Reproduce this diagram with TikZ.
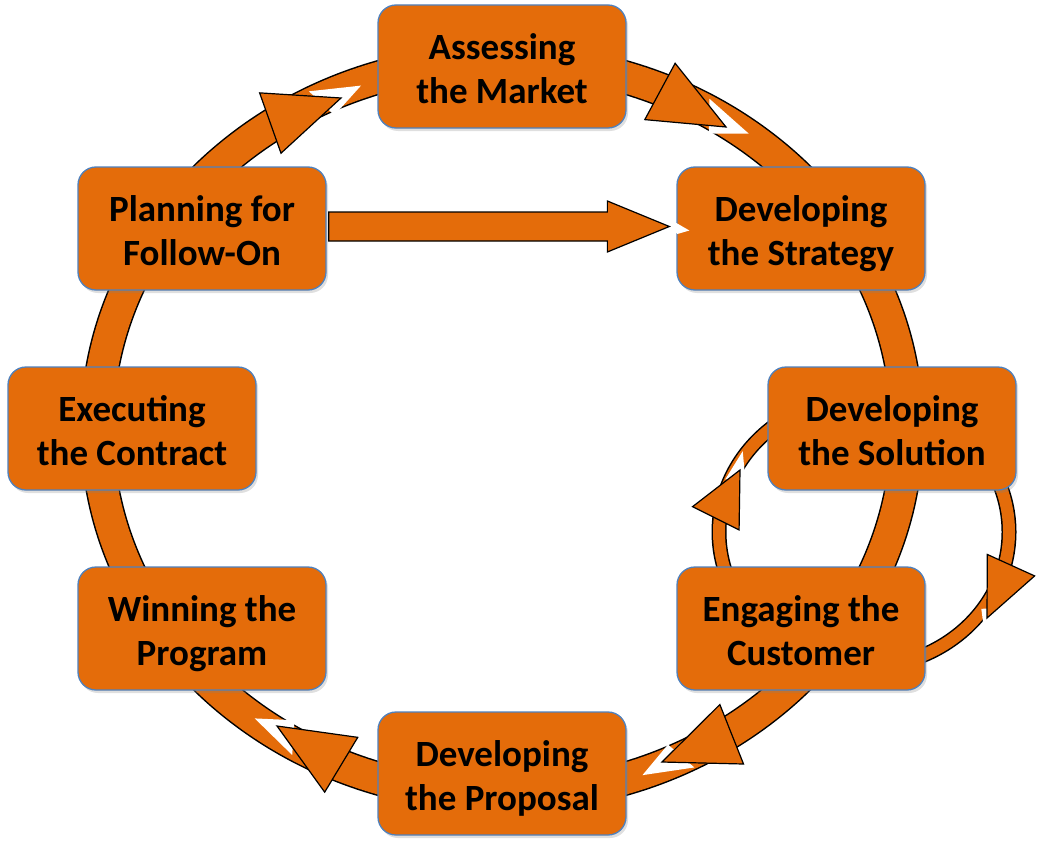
\documentclass[tikz,border=0pt]{standalone}
\usepackage{fontspec}
\setmainfont{Carlito}
\usetikzlibrary{calc,shadows}
\definecolor{org}{RGB}{228,108,10}
\definecolor{bord}{RGB}{79,129,189}
\newcommand\twoline[2]{\raisebox{-6pt}[\height][\depth]{\begin{tabular}{@{}c@{}}#1\\#2\end{tabular}}}
\begin{document}
\begin{tikzpicture}[x=1pt,y=-1pt,
  box/.style={draw=bord, line width=1.3pt, fill=org, rounded corners=18pt,
    minimum width=248pt, minimum height=123pt, inner sep=0pt,
    font=\bfseries\fontsize{37}{44}\selectfont,
    drop shadow={opacity=0.25, shadow xshift=2pt, shadow yshift=-3pt}},
  head/.style={fill=org, draw=black, line width=1.2pt, line join=miter},
  notch/.style={fill=white}]
\useasboundingbox (0,0) rectangle (1043,848);
\fill[white] (0,0) rectangle (1043,848);
% main ring
\draw[line width=34pt, black] (502,428) ellipse [x radius=405pt, y radius=368pt];
\draw[line width=31pt, org] (502,428) ellipse [x radius=405pt, y radius=368pt];
% small loop
\draw[line width=15pt, black] (864,532) ellipse [x radius=145pt, y radius=135pt];
\draw[line width=12pt, org] (864,532) ellipse [x radius=145pt, y radius=135pt];
% boxes
\node[box] (mkt)   at (502,66.5)  {\twoline{Assessing}{the Market}};
\node[box] (strat) at (801,228.5) {\twoline{Developing}{the Strategy}};
\node[box] (sol)   at (892,428.5) {\twoline{Developing}{the Solution}};
\node[box] (cust)  at (801,628.5) {\twoline{Engaging the}{Customer}};
\node[box] (prop)  at (502,773.5) {\twoline{Developing}{the Proposal}};
\node[box] (win)   at (202,628.5) {\twoline{Winning the}{Program}};
\node[box] (exec)  at (132,428.5) {\twoline{Executing}{the Contract}};
\node[box] (plan)  at (202,228.5) {\twoline{Planning for}{Follow-On}};
% arrowheads on the main ring
\begin{scope}[shift={(341,98)}, rotate=19.5]
  \fill[notch] (-28,-17) -- (23,-5) -- (-12,14) -- cycle;
  \draw[head] (0,0) -- (-75,32) -- (-75,-32) -- cycle;
\end{scope}
\begin{scope}[shift={(726,127)}, rotate=-28.3]
  \fill[notch] (-28,-17) -- (23,-5) -- (-12,14) -- cycle;
  \draw[head] (0,0) -- (-75,32) -- (-75,-32) -- cycle;
\end{scope}
\begin{scope}[shift={(662,762)}, rotate=-158.3]
  \fill[notch] (-28,-17) -- (23,-5) -- (-12,14) -- cycle;
  \draw[head] (0,0) -- (-75,32) -- (-75,-32) -- cycle;
\end{scope}
\begin{scope}[shift={(277,726)}, rotate=148.9]
  \fill[notch] (-28,-17) -- (23,-5) -- (-12,14) -- cycle;
  \draw[head] (0,0) -- (-75,32) -- (-75,-32) -- cycle;
\end{scope}
% arrowheads on the small loop
\begin{scope}[shift={(740,470)}, rotate=63.4]
  \fill[notch] (-15,-9) -- (18,-6) -- (-6,9) -- cycle;
  \draw[head] (0,0) -- (-54,26) -- (-54,-26) -- cycle;
\end{scope}
\begin{scope}[shift={(987,618)}, rotate=-114.4]
  \fill[notch] (-15,-9) -- (18,-6) -- (-6,9) -- cycle;
  \draw[head] (0,0) -- (-58,26) -- (-58,-26) -- cycle;
\end{scope}
% straight arrow
\coordinate (sa) at ($(plan.east)+(2,-2)$);
\coordinate (sb) at ($(strat.west)+(-7,-2)$);
\fill[notch] (sb) -- ++(7,-3.5) -- ++(13,7.5) -- ++(-12,3.5) -- cycle;
\draw[head] ($(sa)+(0,-14.5)$) -- ($(sb)+(-62,-14.5)$) -- ($(sb)+(-62,-25.5)$)
  -- (sb) -- ($(sb)+(-62,25.5)$) -- ($(sb)+(-62,14.5)$) -- ($(sa)+(0,14.5)$) -- cycle;
\end{tikzpicture}
\end{document}
